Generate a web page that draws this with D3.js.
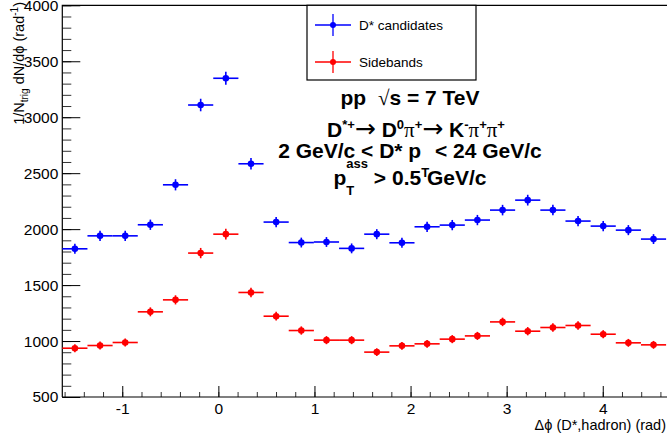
<!DOCTYPE html>
<html>
<head>
<meta charset="utf-8">
<script src="https://cdn.jsdelivr.net/npm/d3@7"></script>
<style>
  body { margin: 0; background: #fff; }
  svg { font-family: "Liberation Sans", Arial, sans-serif; }
  .axis path { display: none; }
  .axis line { stroke: #000; }
  .axis text { font-size: 15.5px; fill: #000; }
  .minor line { stroke: #333; }
</style>
</head>
<body>
<div class="graph"></div>
<script>
// values (24 bins in delta phi)
var dstarVals = [1824, 1940, 1940, 2039, 2396, 3109, 3348, 2584, 2063, 1880, 1885, 1828,
                 1955, 1878, 2021, 2036, 2081, 2170, 2259, 2170, 2072, 2027, 1991, 1911];
var dstarErrs = [45, 45, 45, 46, 50, 56, 58, 51, 46, 44, 44, 44,
                 45, 44, 46, 46, 46, 47, 48, 47, 46, 46, 45, 44];
var sideVals  = [936, 960, 987, 1261, 1368, 1786, 1955, 1434, 1222, 1094, 1008, 1008,
                 901, 957, 975, 1017, 1046, 1171, 1088, 1121, 1139, 1061, 984, 966];
var sideErrs  = [36, 36, 36, 40, 41, 46, 48, 42, 39, 37, 36, 36,
                 34, 35, 35, 36, 36, 38, 37, 37, 37, 36, 35, 35];
var seriesNames  = ["D* candidates", "Sidebands"];
var seriesColors = ["#0000ff", "#ff0000"];
var yMajor = [500, 1000, 1500, 2000, 2500, 3000, 3500, 4000];
var xMajor = [-1, 0, 1, 2, 3, 4];

var nBins = 24,
    phiLo = -1.624,
    binW = 2 * Math.PI / nBins;

var width = 667, height = 439;
var pLeft = 62.3, pRight = 666.1, pTop = 5.3, pBottom = 397;

var svg = d3.select(".graph").append("svg")
    .attr("width", width)
    .attr("height", height);

var x = d3.scaleLinear()
    .domain([phiLo, phiLo + nBins * binW])
    .range([pLeft, pRight]);

var y = d3.scaleLinear()
    .domain([500, 4000])
    .range([pBottom, pTop]);

// minor ticks first, then majors
svg.append("g")
    .attr("class", "axis minor")
    .attr("transform", "translate(" + pLeft + ",0)")
    .call(d3.axisLeft(y).tickValues(d3.range(500, 4001, 100)).tickSize(-9).tickFormat(""));

svg.append("g")
    .attr("class", "axis")
    .attr("transform", "translate(" + pLeft + ",0)")
    .call(d3.axisLeft(y).tickValues(yMajor).tickSize(-18).tickPadding(4)
      .tickFormat(function(d) { return String(d); }));

svg.append("g")
    .attr("class", "axis minor")
    .attr("transform", "translate(0," + pBottom + ")")
    .call(d3.axisBottom(x).tickValues(d3.range(-1.6, 4.61, 0.2)).tickSize(-5).tickFormat(""));

svg.append("g")
    .attr("class", "axis")
    .attr("transform", "translate(0," + pBottom + ")")
    .call(d3.axisBottom(x).tickValues(xMajor).tickSize(-11).tickPadding(6)
      .tickFormat(function(d) { return String(d); }));

// frame
svg.append("path")
    .attr("d", "M" + pLeft + "," + pBottom + "V" + pTop + "H" + width)
    .attr("fill", "none").attr("stroke", "#000").attr("stroke-width", 1.2);
svg.append("line")
    .attr("x1", pLeft).attr("x2", width).attr("y1", pBottom).attr("y2", pBottom)
    .attr("stroke", "#000").attr("stroke-width", 1.2);

// data points with error bars
function drawSeries(vals, errs, color) {
  var g = svg.append("g");
  var pts = g.selectAll(".pt")
      .data(vals.map(function(v, i) { return {i: i, v: v, e: errs[i]}; }))
    .enter().append("g")
      .attr("class", "pt");
  pts.append("line")
      .attr("x1", function(d) { return x(phiLo + d.i * binW); })
      .attr("x2", function(d) { return x(phiLo + (d.i + 1) * binW); })
      .attr("y1", function(d) { return y(d.v); })
      .attr("y2", function(d) { return y(d.v); })
      .attr("stroke", color).attr("stroke-width", 1.6);
  pts.append("line")
      .attr("x1", function(d) { return x(phiLo + (d.i + 0.5) * binW); })
      .attr("x2", function(d) { return x(phiLo + (d.i + 0.5) * binW); })
      .attr("y1", function(d) { return y(d.v - d.e); })
      .attr("y2", function(d) { return y(d.v + d.e); })
      .attr("stroke", color).attr("stroke-width", 1.6);
  pts.append("circle")
      .attr("cx", function(d) { return x(phiLo + (d.i + 0.5) * binW); })
      .attr("cy", function(d) { return y(d.v); })
      .attr("r", 3.3)
      .attr("fill", color);
}
drawSeries(dstarVals, dstarErrs, seriesColors[0]);
drawSeries(sideVals, sideErrs, seriesColors[1]);

// legend
var legend = svg.append("g");
legend.append("rect")
    .attr("x", 307).attr("y", pTop).attr("width", 169).attr("height", 80 - pTop)
    .attr("fill", "#fff").attr("stroke", "#000").attr("stroke-width", 1.2);
seriesNames.forEach(function(name, i) {
  var ly = 25 + i * 37;
  legend.append("line").attr("x1", 315).attr("x2", 351).attr("y1", ly).attr("y2", ly)
      .attr("stroke", seriesColors[i]).attr("stroke-width", 1.3);
  legend.append("line").attr("x1", 333).attr("x2", 333).attr("y1", ly - 11).attr("y2", ly + 11)
      .attr("stroke", seriesColors[i]).attr("stroke-width", 1.3);
  legend.append("circle").attr("cx", 333).attr("cy", ly).attr("r", 3).attr("fill", seriesColors[i]);
  legend.append("text").attr("x", 359).attr("y", ly + 5)
      .style("font-size", "13.5px").text(name);
});

// latex-like text lines
function latex(xc, yb, size, parts) {
  var t = svg.append("text")
      .attr("x", xc).attr("y", yb)
      .attr("text-anchor", "middle")
      .style("font-size", size + "px")
      .style("font-weight", "bold");
  parts.forEach(function(p) {
    var s = t.append("tspan").text(p.t);
    if (p.dy) s.attr("dy", p.dy);
    if (p.dx) s.attr("dx", p.dx);
    if (p.size) s.style("font-size", p.size + "px");
    if (p.sym) s.style("font-family", "'Liberation Serif', 'DejaVu Serif', serif").style("font-weight", "normal");
    if (p.arrow) s.style("font-family", "'DejaVu Sans', sans-serif").style("font-weight", "normal");
  });
}

latex(410, 105, 21, [{t: "pp "}, {t: "\u221A", sym: 1, dx: 6}, {t: "s = 7 TeV"}]);
latex(416, 137, 21, [
  {t: "D"}, {t: "*+", size: 13, dy: -8}, {t: "\u2192", arrow: 1, size: 25, dy: 8}, {t: " D"},
  {t: "0", size: 13, dy: -8}, {t: "\u03C0", sym: 1, dy: 8}, {t: "+", size: 13, dy: -8},
  {t: "\u2192", arrow: 1, size: 25, dy: 8}, {t: " K"}, {t: "-", size: 13, dy: -8},
  {t: "\u03C0", sym: 1, dy: 8}, {t: "+", size: 13, dy: -8},
  {t: "\u03C0", sym: 1, dy: 8}, {t: "+", size: 13, dy: -8}
]);
latex(410, 158, 21, [{t: "2 GeV/c < D* p"}, {t: "T", size: 13, dy: 19}, {t: " < 24 GeV/c", dy: -19}]);
latex(410, 185, 21, [
  {t: "p"}, {t: "ass", size: 13, dy: -17}, {t: "T", size: 13, dx: -21.7, dy: 27},
  {t: " > 0.5 GeV/c", dx: 13.8, dy: -10}
]);

// axis titles
svg.append("text")
    .attr("x", 666).attr("y", 430)
    .attr("text-anchor", "end")
    .style("font-size", "14.5px")
    .text("\u0394\u03D5 (D*,hadron) (rad)");

var yt = svg.append("text")
    .attr("transform", "translate(24,2) rotate(-90)")
    .attr("text-anchor", "end")
    .style("font-size", "14.5px");
yt.append("tspan").text("1/N");
yt.append("tspan").text("trig").style("font-size", "10px").attr("dy", 4);
yt.append("tspan").text(" dN/d\u03D5 (rad").attr("dy", -4);
yt.append("tspan").text("-1").style("font-size", "10px").attr("dy", -6);
yt.append("tspan").text(")").attr("dy", 6);
</script>
</body>
</html>
